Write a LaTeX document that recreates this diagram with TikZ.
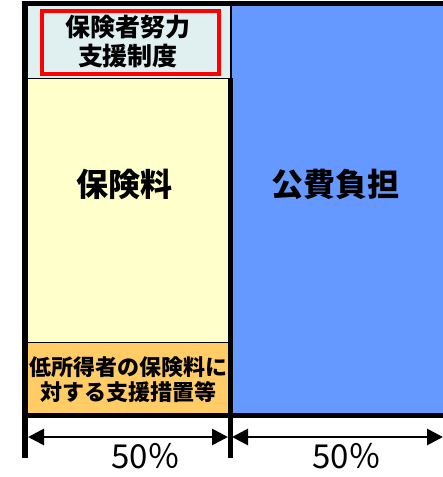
\documentclass[tikz,border=0pt]{standalone}
\usepackage{fontspec}
\setmainfont{Noto Sans CJK JP}
\usetikzlibrary{arrows.meta}

\definecolor{lightcyan}{HTML}{E0F0F0}
\definecolor{paleyellow}{HTML}{FFFFCC}
\definecolor{paleorange}{HTML}{FFCC66}
\definecolor{publicblue}{HTML}{6699FF}

\tikzset{
  boxlabel/.style={font=\bfseries\fontsize{#1}{#1}\selectfont, align=center, inner sep=0pt},
  pctlabel/.style={font=\fontsize{33}{33}\selectfont, inner sep=0pt},
  thickline/.style={line width=5pt},
  spanarrow/.style={line width=2.8pt, {Triangle[length=16pt,width=16pt]}-{Triangle[length=16pt,width=16pt]}}
}

\begin{document}
\begin{tikzpicture}[x=1pt,y=-1pt]
\clip (0,0) rectangle (443,477);
\fill[white] (0,0) rectangle (443,477);

% public share
\fill[publicblue] (232,4) rectangle (443,415);

% insured share
\draw[fill=lightcyan, line width=0.6pt] (25,4) rectangle (230,78);
\draw[fill=paleyellow, line width=0.6pt] (25,78) rectangle (230,342);
\draw[fill=paleorange, line width=0.6pt] (25,342) rectangle (230,415);
\draw[red, line width=3.5pt] (42,11) rectangle (219,74);

% frame
\draw[thickline] (22,3.5) -- (443,3.5);
\draw[line width=6pt] (25,1) -- (25,458);
\draw[line width=1.5pt] (231,4) -- (231,78);
\draw[thickline] (230,78) -- (230,458);
\draw[thickline] (25,415.5) -- (443,415.5);

\node[boxlabel=25] (insurer) at (128,42) {保険者努力\\[4pt]支援制度};
\node[boxlabel=32] (premium) at (124,184) {保険料};
\node[boxlabel=22] (lowincome) at (129,380) {低所得者の保険料に\\[3pt]対する支援措置等};
\node[boxlabel=32] (public) at (335,184) {公費負担};

% shares
\coordinate (leftA) at (28,437);
\coordinate (leftB) at (228,437);
\coordinate (rightA) at (232,437);
\coordinate (rightB) at (443,437);
\draw[spanarrow] (leftA) -- (leftB);
\draw[spanarrow] (rightA) -- (rightB);

\node[pctlabel] (pctleft) at (146,456) {50％};
\node[pctlabel] (pctright) at (347,456) {50％};
\end{tikzpicture}
\end{document}
